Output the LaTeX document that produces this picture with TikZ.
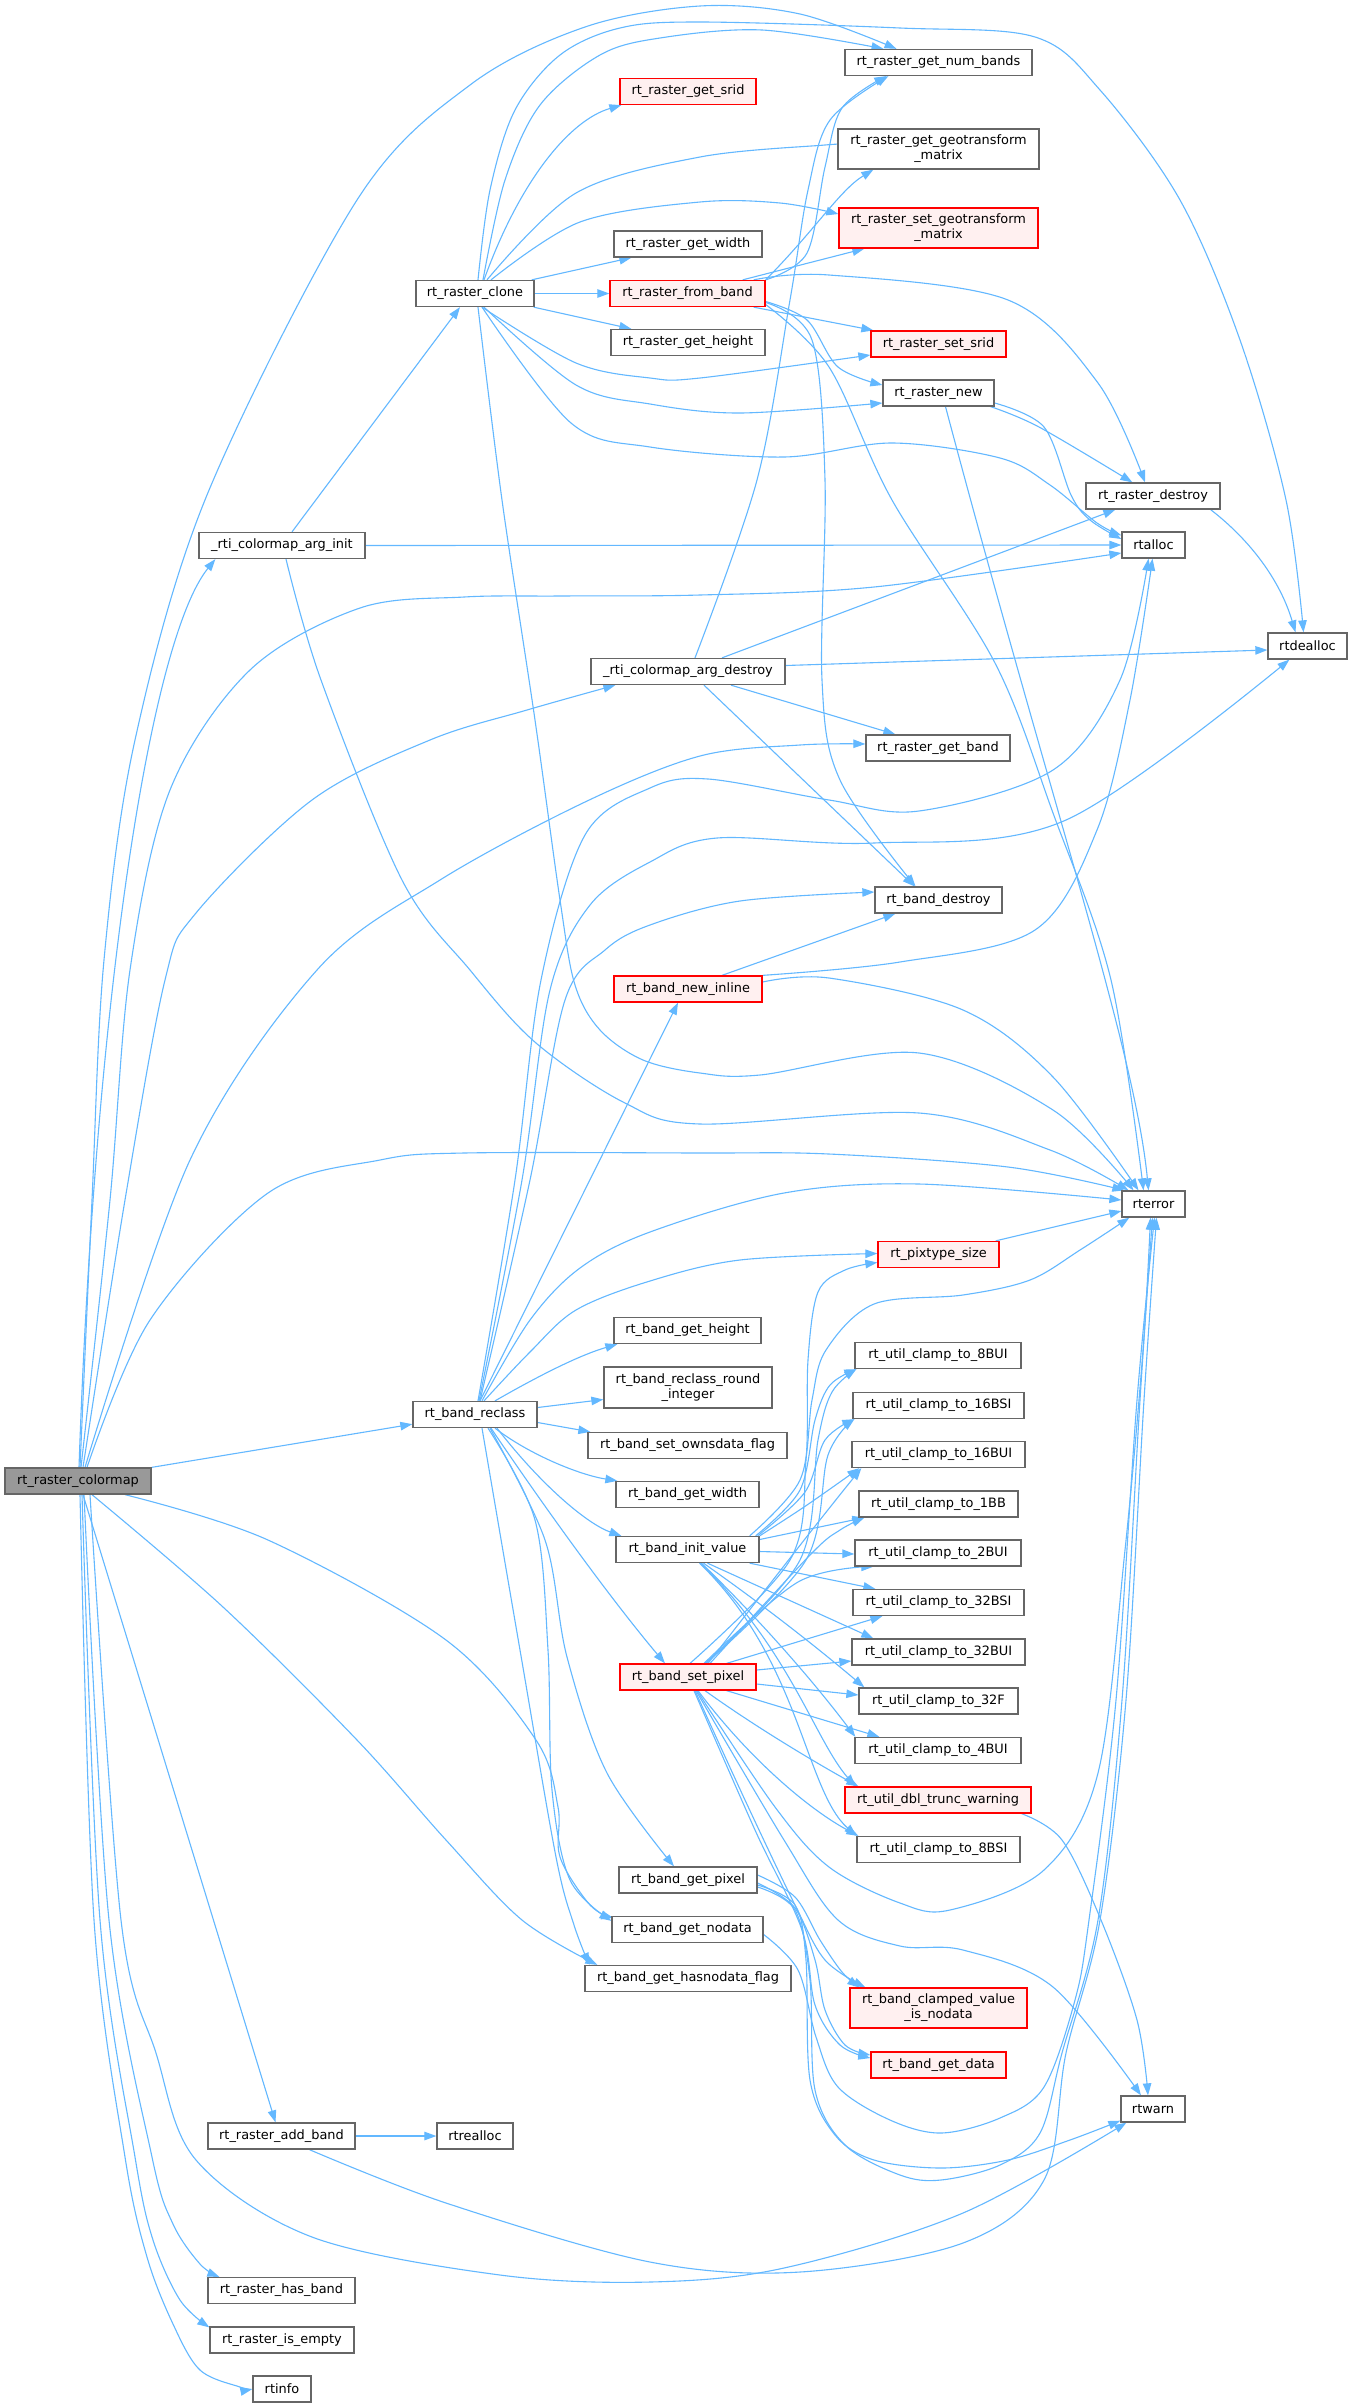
\documentclass[tikz,border=0pt]{standalone}
\usepackage{fontspec}
\setmainfont{DejaVu Sans}
\usetikzlibrary{arrows.meta,calc}
\definecolor{edgeblue}{HTML}{63B8FF}
\definecolor{ndgray}{HTML}{666666}
\definecolor{redfill}{HTML}{FFF0F0}
\definecolor{grayfill}{HTML}{999999}
\pgfdeclarelayer{bg}
\pgfsetlayers{bg,main}
\tikzset{
 nd/.style={draw=ndgray, line width=1.3pt, fill=white, inner sep=0pt, minimum height=26pt, font=\fontsize{12.9}{15}\selectfont, align=center, text=black},
 rd/.style={nd, draw=red, fill=redfill},
 edg/.style={draw=edgeblue, line width=1.1pt, -{Triangle[length=12pt,width=8.5pt]}},
 sm/.style={smooth, tension=0.55}
}
\begin{document}
\begin{tikzpicture}[x=1pt,y=-1pt]
\useasboundingbox (0,0) rectangle (1352,2407);
% nodes
\node[nd, fill=grayfill, minimum width=146pt] (C) at (78,1481) {rt\_raster\_colormap};
\node[nd, minimum width=166pt] (AI) at (282,545.5) {\_rti\_colormap\_arg\_init};
\node[nd, minimum width=118pt] (RC) at (475,293.5) {rt\_raster\_clone};
\node[nd, minimum width=194pt] (AD) at (688,671.5) {\_rti\_colormap\_arg\_destroy};
\node[nd, minimum width=124pt] (RB) at (475,1414.5) {rt\_band\_reclass};
\node[nd, minimum width=147pt] (AB) at (281.5,2136) {rt\_raster\_add\_band};
\node[nd, minimum width=147pt] (HB) at (281.5,2290.5) {rt\_raster\_has\_band};
\node[nd, minimum width=144pt] (IE) at (282,2340) {rt\_raster\_is\_empty};
\node[nd, minimum width=58pt] (INFO) at (282,2389) {rtinfo};
\node[rd, minimum width=136pt] (SRID) at (688,91.5) {rt\_raster\_get\_srid};
\node[nd, minimum width=148pt] (GW) at (688,244) {rt\_raster\_get\_width};
\node[rd, minimum width=155pt] (FB) at (687.5,293.5) {rt\_raster\_from\_band};
\node[nd, minimum width=154pt] (GH) at (688,342.5) {rt\_raster\_get\_height};
\node[rd, minimum width=148pt] (NI) at (688,989) {rt\_band\_new\_inline};
\node[nd, minimum width=147pt] (BGH) at (687.5,1330.5) {rt\_band\_get\_height};
\node[nd, minimum width=168pt, minimum height=41pt] (RRI) at (688,1387.5) {rt\_band\_reclass\_round\\\_integer};
\node[nd, minimum width=199pt] (SOF) at (687.5,1445.5) {rt\_band\_set\_ownsdata\_flag};
\node[nd, minimum width=143pt] (BGW) at (687.5,1494.5) {rt\_band\_get\_width};
\node[nd, minimum width=143pt] (IV) at (687.5,1549.5) {rt\_band\_init\_value};
\node[rd, minimum width=136pt] (SP) at (688,1677) {rt\_band\_set\_pixel};
\node[nd, minimum width=138pt] (GP) at (688,1880) {rt\_band\_get\_pixel};
\node[nd, minimum width=151pt] (GND) at (687.5,1929.5) {rt\_band\_get\_nodata};
\node[nd, minimum width=206pt] (HND) at (688,1978.5) {rt\_band\_get\_hasnodata\_flag};
\node[nd, minimum width=76pt] (RA) at (475,2136) {rtrealloc};
\node[nd, minimum width=187pt] (NB) at (938.5,62.5) {rt\_raster\_get\_num\_bands};
\node[nd, minimum width=201pt, minimum height=40pt] (GGM) at (938.5,149) {rt\_raster\_get\_geotransform\\\_matrix};
\node[rd, minimum width=199pt, minimum height=40pt] (SGM) at (938.5,228) {rt\_raster\_set\_geotransform\\\_matrix};
\node[rd, minimum width=135pt] (SSR) at (938.5,344) {rt\_raster\_set\_srid};
\node[nd, minimum width=111pt] (RN) at (938.5,393) {rt\_raster\_new};
\node[nd, minimum width=144pt] (GB) at (938,748) {rt\_raster\_get\_band};
\node[nd, minimum width=127pt] (BD) at (938.5,900) {rt\_band\_destroy};
\node[rd, minimum width=121pt] (PS) at (938.5,1254.5) {rt\_pixtype\_size};
\node[nd, minimum width=166pt] (U8) at (938,1355.5) {rt\_util\_clamp\_to\_8BUI};
\node[nd, minimum width=171pt] (U16S) at (938.5,1405.5) {rt\_util\_clamp\_to\_16BSI};
\node[nd, minimum width=173pt] (U16U) at (938.5,1454.5) {rt\_util\_clamp\_to\_16BUI};
\node[nd, minimum width=159pt] (U1) at (938.5,1504) {rt\_util\_clamp\_to\_1BB};
\node[nd, minimum width=166pt] (U2) at (938,1553) {rt\_util\_clamp\_to\_2BUI};
\node[nd, minimum width=171pt] (U32S) at (938.5,1602.5) {rt\_util\_clamp\_to\_32BSI};
\node[nd, minimum width=173pt] (U32U) at (938.5,1652) {rt\_util\_clamp\_to\_32BUI};
\node[nd, minimum width=159pt] (U32F) at (938.5,1701) {rt\_util\_clamp\_to\_32F};
\node[nd, minimum width=166pt] (U4) at (938,1750.5) {rt\_util\_clamp\_to\_4BUI};
\node[rd, minimum width=186pt] (DTW) at (938,1800) {rt\_util\_dbl\_trunc\_warning};
\node[nd, minimum width=163pt] (U8S) at (938.5,1849.5) {rt\_util\_clamp\_to\_8BSI};
\node[rd, minimum width=177pt, minimum height=40pt] (CVN) at (938.5,2008) {rt\_band\_clamped\_value\\\_is\_nodata};
\node[rd, minimum width=135pt] (GD) at (938.5,2065) {rt\_band\_get\_data};
\node[nd, minimum width=134pt] (RD) at (1153,496) {rt\_raster\_destroy};
\node[nd, minimum width=63pt] (RTA) at (1153.5,545) {rtalloc};
\node[nd, minimum width=63pt] (RTE) at (1153.5,1204) {rterror};
\node[nd, minimum width=64pt] (RTW) at (1153,2109) {rtwarn};
\node[nd, minimum width=79pt] (RTD) at (1307.5,646) {rtdealloc};

\begin{pgfonlayer}{bg}
\fill[white] (0,0) rectangle (1352,2407);
% C
\draw[edg] ($(C.north)+(1,0)$) .. controls (95,1000) and (150,640) .. ($(AI.south west)+(17,0)$);
\draw[edg] plot[sm] coordinates {($(C.north)+(2,0)$) (92,1200) (104,960) (135,740) (207,495) (357,200) (470,85) (585,27) (700,6) (800,14) ($(NB.north)+(-42,0)$)};
\draw[edg] plot[sm] coordinates {($(C.north)+(3,0)$) (110,1200) (130,970) (170,790) (250,670) (360,608) (464,597) (560,596) (700,595) (874,587) ($(RTA.west)+(0,8)$)};
\draw[edg] plot[sm] coordinates {($(C.north)+(5,0)$) (125,1200) (165,980) (196,913) (312,800) (430,740) (527,710) ($(AD.south west)+(25,0)$)};
\draw[edg] plot[sm] coordinates {($(C.north)+(7,0)$) (190,1160) (317,970) (440,880) (585,802) (700,756) (800,745) ($(GB.west)+(0,-4)$)};
\draw[edg] plot[sm] coordinates {($(C.north)+(9,0)$) (150,1320) (268,1193) (380,1160) (464,1153) (700,1153) (829,1154) (1008,1167) ($(RTE.north west)+(3,0)$)};
\draw[edg] (C.north east) -- ($(RB.south west)+(0,-4)$);
\draw[edg] plot[sm] coordinates {($(C.south)+(47,0)$) (268,1540) (446,1640) (536,1740) (558,1807) (560,1857) (590,1905) ($(GND.north west)+(2,2)$)};
\draw[edg] plot[sm] coordinates {($(C.south)+(14,0)$) (223,1607) (357,1740) (446,1840) (522,1920) ($(HND.north west)+(13,0)$)};
\draw[edg] ($(C.south)+(5,0)$) -- ($(AB.north)+(-6,0)$);
\draw[edg] plot[sm] coordinates {($(C.south)+(12,0)$) (121,1920) (156,2053) (196,2160) (312,2237) (500,2275) (650,2282) (784,2268) (963,2213) ($(RTW.south west)+(6,0)$)};
\draw[edg] plot[sm] coordinates {($(C.south)+(6,0)$) (109,1920) (152,2157) (173,2224) (200,2264) ($(HB.north west)+(12,0)$)};
\draw[edg] plot[sm] coordinates {($(C.south)+(4,0)$) (100,1920) (135,2157) (153,2240) (180,2300) ($(IE.north west)+(0,1)$)};
\draw[edg] plot[sm] coordinates {($(C.south)+(2,0)$) (94,1920) (125,2157) (147,2257) (173,2324) (200,2370) (240,2387) (INFO.west)};
% AI
\draw[edg] ($(AI.north)+(10,0)$) -- ($(RC.south)+(-15,0)$);
\draw[edg] (AI.east) -- (RTA.west);
\draw[edg] plot[sm] coordinates {($(AI.south)+(4,0)$) (321,680) (402,880) (470,970) (536,1043) (625,1103) (700,1124) (919,1113) (1050,1150) ($(RTE.north)+(-25,0)$)};
% RC
\draw[edg] plot[sm] coordinates {($(RC.north)+(3,0)$) (490,190) (515,110) (560,55) (620,28) (700,22) (900,28) (1035,37) (1100,90) (1180,200) (1240,340) (1286,500) ($(RTD.north)+(-4,0)$)};
\draw[edg] plot[sm] coordinates {($(RC.north)+(8,0)$) (505,180) (540,105) (600,55) (660,38) (762,30) ($(NB.north)+(-55,0)$)};
\draw[edg] ($(RC.north)+(9,0)$) .. controls (520,180) and (570,120) .. ($(SRID.south west)+(2,0)$);
\draw[edg] plot[sm] coordinates {($(RC.north)+(12,0)$) (576,193) (700,157) (825,145) ($(GGM.west)+(0,-4)$)};
\draw[edg] plot[sm] coordinates {($(RC.north)+(16,0)$) (580,222) (700,202) (780,203) ($(SGM.west)+(0,-14)$)};
\draw[edg] ($(RC.north east)+(-3,0)$) -- ($(GW.south west)+(18,0)$);
\draw[edg] (RC.east) -- (FB.west);
\draw[edg] ($(RC.south east)+(-1,0)$) -- ($(GH.north west)+(21,0)$);
\draw[edg] plot[sm] coordinates {($(RC.south)+(7,0)$) (576,363) (650,378) (700,378) ($(SSR.west)+(0,11)$)};
\draw[edg] plot[sm] coordinates {($(RC.south)+(9,0)$) (576,385) (650,404) (740,413) ($(RN.west)+(0,10)$)};
\draw[edg] plot[sm] coordinates {($(RC.south)+(7,0)$) (571,423) (650,447) (784,457) (892,443) (1000,458) (1050,485) (1097,523) ($(RTA.north west)+(0,4)$)};
\draw[edg] plot[sm] coordinates {($(RC.south)+(3,0)$) (502,500) (535,720) (560,900) (575,985) (600,1030) (643,1060) (700,1073) (760,1075) (919,1053) (1053,1110) ($(RTE.north)+(-20,0)$)};
% FB
\draw[edg] plot[sm] coordinates {(FB.north east) (807,253) (825,167) (842,108) ($(NB.south west)+(42,0)$)};
\draw[edg] (FB.north east) .. controls (815,230) and (840,190) .. ($(GGM.south west)+(36,0)$);
\draw[edg] ($(FB.north east)+(-23,0)$) -- ($(SGM.south west)+(26,0)$);
\draw[edg] plot[sm] coordinates {($(FB.north east)+(-12,0)$) (829,275) (1008,300) (1098,383) ($(RD.north)+(-8,0)$)};
\draw[edg] ($(FB.south east)+(-12,0)$) -- ($(SSR.north west)+(3,0)$);
\draw[edg] plot[sm] coordinates {($(FB.east)+(0,8)$) (807,320) (838,367) ($(RN.west)+(0,-8)$)};
\draw[edg] plot[sm] coordinates {($(FB.east)+(0,9)$) (812,340) (825,480) (822,680) (840,780) ($(BD.north)+(-23,0)$)};
\draw[edg] plot[sm] coordinates {($(FB.east)+(0,11)$) (829,367) (892,500) (995,663) (1053,813) (1111,980) ($(RTE.north)+(-10,0)$)};
% RN
\draw[edg] plot[sm] coordinates {($(RN.south east)+(-4,0)$) (1039,427) ($(RD.north west)+(47,0)$)};
\draw[edg] plot[sm] coordinates {($(RN.east)+(0,10)$) (1044,427) (1071,495) (1090,520) ($(RTA.west)+(0,-6)$)};
\draw[edg] ($(RN.south)+(7,0)$) .. controls (1050,800) and (1135,1050) .. ($(RTE.north)+(-5,0)$);
% RD
\draw[edg] ($(RD.south east)+(-10,0)$) .. controls (1250,540) and (1280,580) .. ($(RTD.north)+(-12,0)$);
% AD
\draw[edg] plot[sm] coordinates {($(AD.north)+(7,0)$) (757,480) (790,300) (808,190) (830,120) ($(NB.south west)+(44,0)$)};
\draw[edg] ($(AD.north)+(34,0)$) -- ($(RD.south west)+(30,0)$);
\draw[edg] ($(AD.east)+(0,-6)$) -- ($(RTD.west)+(0,4)$);
\draw[edg] ($(AD.south)+(43,0)$) -- ($(GB.north west)+(30,0)$);
\draw[edg] ($(AD.south)+(16,0)$) -- ($(BD.north)+(-24,0)$);
% NI
\draw[edg] ($(NI.north)+(34,0)$) -- ($(BD.south west)+(21,0)$);
\draw[edg] plot[sm] coordinates {(NI.north east) (900,962) (1035,930) (1097,830) (1130,700) ($(RTA.south)+(-1,0)$)};
\draw[edg] plot[sm] coordinates {($(NI.east)+(0,-7)$) (829,978) (963,1010) (1053,1077) ($(RTE.north)+(-15,0)$)};
% RB
\draw[edg] plot[sm] coordinates {($(RB.north)+(3,0)$) (515,1180) (541,980) (585,835) (650,788) (708,779) (829,800) (919,811) (1053,770) (1120,680) ($(RTA.south)+(-5,0)$)};
\draw[edg] plot[sm] coordinates {($(RB.north)+(4,0)$) (522,1180) (550,990) (590,905) (650,862) (717,838) (874,843) (1066,820) ($(RTD.south west)+(22,0)$)};
\draw[edg] plot[sm] coordinates {($(RB.north)+(5,0)$) (530,1180) (565,1000) (605,950) (650,925) (740,901) ($(BD.west)+(0,-8)$)};
\draw[edg] ($(RB.north)+(5,0)$) -- ($(NI.south)+(-10,0)$);
\draw[edg] plot[sm] coordinates {($(RB.north)+(7,0)$) (530,1320) (580,1268) (650,1232) (784,1193) (919,1184) ($(RTE.west)+(0,-4)$)};
\draw[edg] plot[sm] coordinates {($(RB.north)+(9,0)$) (530,1352) (576,1310) (650,1281) (740,1260) ($(PS.west)+(0,-1)$)};
\draw[edg] ($(RB.north)+(20,0)$) .. controls (540,1375) and (580,1355) .. ($(BGH.south west)+(4,0)$);
\draw[edg] ($(RB.east)+(0,-7)$) -- ($(RRI.west)+(0,12)$);
\draw[edg] ($(RB.east)+(0,8)$) -- ($(SOF.north west)+(3,0)$);
\draw[edg] ($(RB.south)+(20,0)$) .. controls (530,1455) and (580,1475) .. ($(BGW.north west)+(2,0)$);
\draw[edg] ($(RB.south)+(22,0)$) .. controls (545,1490) and (590,1525) .. ($(IV.north west)+(6,0)$);
\draw[edg] ($(RB.south)+(16,0)$) .. controls (560,1530) and (620,1610) .. ($(SP.north)+(-23,0)$);
\draw[edg] plot[sm] coordinates {($(RB.south)+(15,0)$) (545,1540) (567,1657) (607,1773) ($(GP.north)+(-14,0)$)};
\draw[edg] plot[sm] coordinates {($(RB.south)+(13,0)$) (535,1520) (548,1650) (552,1790) (570,1880) ($(GND.north west)+(0,5)$)};
\draw[edg] plot[sm] coordinates {($(RB.south)+(7,0)$) (520,1650) (556,1857) (574,1925) ($(HND.north west)+(5,0)$)};
% IV
\draw[edg] plot[sm] coordinates {($(IV.north east)+(-4,0)$) (800,1490) (815,1420) (830,1385) ($(U8.south west)+(2,0)$)};
\draw[edg] plot[sm] coordinates {($(IV.north east)+(-2,0)$) (805,1492) (825,1440) ($(U16S.south west)+(2,0)$)};
\draw[edg] plot[sm] coordinates {(IV.north east) (807,1505) ($(U16U.south west)+(8,0)$)};
\draw[edg] ($(IV.east)+(0,-10)$) -- ($(U1.south west)+(6,0)$);
\draw[edg] ($(IV.east)+(0,2)$) -- ($(U2.west)+(0,1)$);
\draw[edg] ($(IV.south east)+(-10,0)$) -- ($(U32S.north west)+(23,0)$);
\draw[edg] ($(IV.south)+(20,0)$) -- ($(U32U.north west)+(22,0)$);
\draw[edg] ($(IV.south)+(16,0)$) .. controls (770,1610) and (820,1650) .. ($(U32F.north west)+(6,0)$);
\draw[edg] ($(IV.south)+(14,0)$) .. controls (770,1630) and (820,1690) .. ($(U4.north west)+(1,0)$);
\draw[edg] ($(IV.south)+(13,0)$) .. controls (790,1650) and (815,1740) .. ($(DTW.north west)+(11,0)$);
\draw[edg] ($(IV.south)+(12,0)$) .. controls (800,1660) and (805,1790) .. (U8S.north west);
\draw[edg] plot[sm] coordinates {($(IV.north east)+(-10,0)$) (800,1480) (812,1400) (826,1350) (874,1304) (963,1295) (1030,1280) (1080,1250) ($(RTE.south west)+(8,0)$)};
% SP
\draw[edg] plot[sm] coordinates {($(SP.north)+(17,0)$) (800,1560) (818,1440) (832,1392) ($(U8.south west)+(2,0)$)};
\draw[edg] plot[sm] coordinates {($(SP.north)+(18,0)$) (806,1560) (828,1455) ($(U16S.south west)+(2,0)$)};
\draw[edg] plot[sm] coordinates {($(SP.north)+(20,0)$) (812,1530) ($(U16U.south west)+(10,0)$)};
\draw[edg] plot[sm] coordinates {($(SP.north)+(22,0)$) (810,1555) (840,1530) ($(U1.south west)+(6,0)$)};
\draw[edg] plot[sm] coordinates {($(SP.north)+(16,0)$) (798,1582) ($(U2.south west)+(19,0)$)};
\draw[edg] ($(SP.north east)+(-30,0)$) -- ($(U32S.south west)+(30,0)$);
\draw[edg] ($(SP.east)+(0,-7)$) -- ($(U32U.west)+(0,9)$);
\draw[edg] ($(SP.east)+(0,7)$) -- ($(U32F.west)+(0,-6)$);
\draw[edg] ($(SP.south east)+(-30,0)$) -- ($(U4.north west)+(25,0)$);
\draw[edg] ($(SP.south)+(17,0)$) .. controls (760,1730) and (820,1765) .. ($(DTW.north west)+(14,0)$);
\draw[edg] ($(SP.south)+(10,0)$) .. controls (750,1760) and (810,1810) .. ($(U8S.north west)+(2,0)$);
\draw[edg] plot[sm] coordinates {($(SP.north)+(2,0)$) (790,1560) (806,1460) (808,1360) (818,1292) (845,1270) ($(PS.west)+(0,8)$)};
\draw[edg] plot[sm] coordinates {($(SP.south)+(7,0)$) (745,1800) (795,1905) (825,1960) ($(CVN.north west)+(16,0)$)};
\draw[edg] plot[sm] coordinates {($(SP.south)+(6,0)$) (755,1830) (802,1930) (815,2005) (840,2045) ($(GD.west)+(0,-7)$)};
\draw[edg] plot[sm] coordinates {($(SP.south)+(9,0)$) (775,1807) (829,1867) (900,1903) (950,1910) (1044,1870) (1098,1773) (1125,1550) (1143,1350) ($(RTE.south)+(-3,0)$)};
\draw[edg] plot[sm] coordinates {($(SP.south)+(8,0)$) (784,1840) (838,1920) (900,1946) (963,1950) (1053,1987) ($(RTW.north)+(-12,0)$)};
% GP
\draw[edg] plot[sm] coordinates {($(GP.east)+(0,-5)$) (795,1897) (820,1940) (842,1972) ($(CVN.north west)+(10,0)$)};
\draw[edg] plot[sm] coordinates {($(GP.east)+(0,3)$) (795,1908) (815,1960) (825,2010) (845,2045) ($(GD.west)+(0,-10)$)};
\draw[edg] plot[sm] coordinates {($(GP.east)+(0,5)$) (795,1905) (806,1960) (810,2080) (835,2135) (874,2160) (941,2168) (1008,2160) (1070,2140) ($(RTW.south west)+(0,-2)$)};
\draw[edg] plot[sm] coordinates {($(GP.east)+(0,7)$) (795,1910) (810,1980) (815,2090) (845,2145) (900,2175) (941,2180) (1000,2165) (1040,2133) (1062,2053) (1098,1920) (1122,1700) (1140,1400) ($(RTE.south)+(-1,0)$)};
% GND
\draw[edg] plot[sm] coordinates {($(GND.east)+(0,5)$) (798,1970) (816,2037) (838,2087) (890,2120) (941,2133) (1000,2118) (1044,2087) (1075,2000) (1089,1920) (1116,1700) (1137,1400) ($(RTE.south)+(1,0)$)};
% AB
\draw[edg] (AB.east) -- (RA.west);
\draw[edg] plot[sm] coordinates {($(AB.south)+(28,0)$) (446,2203) (650,2262) (800,2272) (963,2243) (1044,2180) (1066,2053) (1100,1920) (1126,1700) (1144,1400) ($(RTE.south)+(3,0)$)};
% DTW
\draw[edg] plot[sm] coordinates {($(DTW.south east)+(-10,0)$) (1062,1840) (1101,1920) (1137,2020) ($(RTW.north)+(-5,0)$)};
% PS
\draw[edg] ($(PS.north east)+(-4,0)$) -- ($(RTE.west)+(0,7)$);
\end{pgfonlayer}
\end{tikzpicture}
\end{document}
